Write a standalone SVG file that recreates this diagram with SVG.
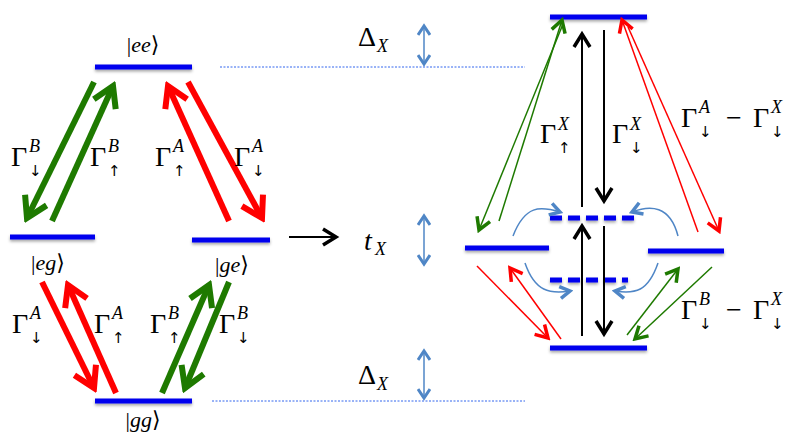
<svg xmlns="http://www.w3.org/2000/svg" width="793" height="437" viewBox="0 0 793 437">
<style>
.lvl{stroke:#0000ee;stroke-width:5}
.dash{stroke:#0000ee;stroke-width:5;stroke-dasharray:12,6}
.guide{stroke:#3366ee;stroke-width:1;stroke-dasharray:2,1.5}
.tg{stroke:#1e7a00;stroke-width:6;fill:none}
.tr{stroke:#ff0000;stroke-width:6;fill:none}
.ng{stroke:#1e7a00;stroke-width:1.5;fill:none}
.nr{stroke:#ff0000;stroke-width:1.5;fill:none}
.bk{stroke:#000;stroke-width:2;fill:none}
.cb{stroke:#4f86c6;stroke-width:1.5;fill:none}
.g{font-family:"Liberation Serif","DejaVu Serif",serif;font-size:28px;fill:#000}
.s{font-family:"Liberation Serif","DejaVu Serif",serif;font-size:18px;font-style:italic;fill:#000}
.a{font-family:"DejaVu Sans",sans-serif;font-size:15px;fill:#000}
.k{font-family:"Liberation Serif","DejaVu Serif",serif;font-size:22px;fill:#000}
.ki{font-style:italic}
</style>
<defs>
<filter id="sh" x="-10%" y="-200%" width="120%" height="500%"><feGaussianBlur in="SourceAlpha" stdDeviation="1.5"/><feOffset dy="2" result="b"/><feFlood flood-color="#000" flood-opacity="0.35"/><feComposite in2="b" operator="in"/><feMerge><feMergeNode/><feMergeNode in="SourceGraphic"/></feMerge></filter>
<marker id="mG" markerUnits="userSpaceOnUse" markerWidth="30" markerHeight="30" viewBox="0 0 30 30" refX="25" refY="15" orient="auto"><path d="M5,3 L25,15 L5,27" stroke="#1e7a00" stroke-width="6" fill="none"/></marker>
<marker id="mR" markerUnits="userSpaceOnUse" markerWidth="30" markerHeight="30" viewBox="0 0 30 30" refX="25" refY="15" orient="auto"><path d="M5,3 L25,15 L5,27" stroke="#ff0000" stroke-width="6" fill="none"/></marker>
<marker id="nG" markerUnits="userSpaceOnUse" markerWidth="18" markerHeight="18" viewBox="0 0 18 18" refX="15" refY="9" orient="auto"><path d="M3,2 L15,9 L3,16" stroke="#1e7a00" stroke-width="3.5" fill="none"/></marker>
<marker id="nR" markerUnits="userSpaceOnUse" markerWidth="18" markerHeight="18" viewBox="0 0 18 18" refX="15" refY="9" orient="auto"><path d="M3,2 L15,9 L3,16" stroke="#ff0000" stroke-width="3.5" fill="none"/></marker>
<marker id="nK" markerUnits="userSpaceOnUse" markerWidth="20" markerHeight="20" viewBox="0 0 20 20" refX="16" refY="10" orient="auto"><path d="M3,2 L16,10 L3,18" stroke="#000" stroke-width="3.5" fill="none"/></marker>
<marker id="nB" markerUnits="userSpaceOnUse" markerWidth="16" markerHeight="16" viewBox="0 0 16 16" refX="13" refY="8" orient="auto"><path d="M3,2 L13,8 L3,14" stroke="#4f86c6" stroke-width="3.5" fill="none"/></marker>
<marker id="bA" markerUnits="userSpaceOnUse" markerWidth="14" markerHeight="14" viewBox="0 0 14 14" refX="11" refY="7" orient="auto-start-reverse"><path d="M2,1 L11,7 L2,13" stroke="#4f86c6" stroke-width="3" fill="none"/></marker>
</defs>

<g id="guides">
<line class="guide" x1="220" y1="67" x2="525" y2="67"/>
<line class="guide" x1="212" y1="401" x2="525" y2="401"/>
</g>

<g id="levels" filter="url(#sh)">
<g id="ee"><line class="lvl" x1="95" y1="67" x2="192" y2="67"/></g>
<g id="eg"><line class="lvl" x1="10" y1="237" x2="95" y2="237"/></g>
<g id="ge"><line class="lvl" x1="192" y1="240" x2="270" y2="240"/></g>
<g id="gg"><line class="lvl" x1="95" y1="401" x2="192" y2="401"/></g>
<g id="r-top"><line class="lvl" x1="550" y1="17" x2="647" y2="17"/></g>
<g id="r-left"><line class="lvl" x1="465" y1="248" x2="549" y2="248"/></g>
<g id="r-right"><line class="lvl" x1="648" y1="251" x2="724" y2="251"/></g>
<g id="r-bottom"><line class="lvl" x1="550" y1="348" x2="647" y2="348"/></g>
<g id="r-dash-up"><line class="dash" x1="550" y1="218" x2="634" y2="218"/></g>
<g id="r-dash-low"><line class="dash" x1="550" y1="280" x2="628" y2="280"/></g>
</g>

<g id="labels">
<text class="k" x="143" y="52" text-anchor="middle">|<tspan class="ki">ee</tspan>⟩</text>
<text class="k" x="48" y="270" text-anchor="middle">|<tspan class="ki">eg</tspan>⟩</text>
<text class="k" x="232" y="272" text-anchor="middle">|<tspan class="ki">ge</tspan>⟩</text>
<text class="k" x="143" y="427" text-anchor="middle">|<tspan class="ki">gg</tspan>⟩</text>
</g>

<g id="connectors">
<line class="tg" x1="94" y1="82" x2="27" y2="218" marker-end="url(#mG)"/>
<line class="tg" x1="52" y1="221" x2="113" y2="86" marker-end="url(#mG)"/>
<line class="tr" x1="229" y1="221" x2="168" y2="86" marker-end="url(#mR)"/>
<line class="tr" x1="188" y1="82" x2="262" y2="218" marker-end="url(#mR)"/>
<line class="tr" x1="42" y1="282" x2="94" y2="388" marker-end="url(#mR)"/>
<line class="tr" x1="116" y1="393" x2="68" y2="285" marker-end="url(#mR)"/>
<line class="tg" x1="162" y1="393" x2="209" y2="285" marker-end="url(#mG)"/>
<line class="tg" x1="229" y1="282" x2="185" y2="388" marker-end="url(#mG)"/>
<line class="bk" x1="289" y1="237" x2="336" y2="237" marker-end="url(#nK)"/>

<line class="ng" x1="563" y1="24" x2="479" y2="230" marker-end="url(#nG)"/>
<line class="ng" x1="499" y1="221" x2="562" y2="20" marker-end="url(#nG)"/>
<line class="nr" x1="698" y1="232" x2="622" y2="20" marker-end="url(#nR)"/>
<line class="nr" x1="628" y1="27" x2="719" y2="231" marker-end="url(#nR)"/>
<line class="bk" x1="582" y1="207" x2="582" y2="34" marker-end="url(#nK)"/>
<line class="bk" x1="604" y1="30" x2="604" y2="201" marker-end="url(#nK)"/>
<line class="bk" x1="582" y1="336" x2="582" y2="226" marker-end="url(#nK)"/>
<line class="bk" x1="604" y1="226" x2="604" y2="334" marker-end="url(#nK)"/>
<line class="nr" x1="477" y1="266" x2="548" y2="338" marker-end="url(#nR)"/>
<line class="nr" x1="561" y1="339" x2="510" y2="268" marker-end="url(#nR)"/>
<line class="ng" x1="627" y1="335" x2="678" y2="269" marker-end="url(#nG)"/>
<line class="ng" x1="712" y1="267" x2="635" y2="339" marker-end="url(#nG)"/>
<path class="cb" d="M513,236 C525,205 540,206 560,212" marker-end="url(#nB)"/>
<path class="cb" d="M678,236 C670,205 650,205 632,212" marker-end="url(#nB)"/>
<path class="cb" d="M525,263 C535,292 550,294 570,291" marker-end="url(#nB)"/>
<path class="cb" d="M658,263 C648,292 635,294 615,291" marker-end="url(#nB)"/>

<line class="cb" stroke-width="2.5" x1="424" y1="26" x2="424" y2="64" marker-start="url(#bA)" marker-end="url(#bA)"/>
<line class="cb" stroke-width="2.5" x1="424" y1="216" x2="424" y2="264" marker-start="url(#bA)" marker-end="url(#bA)"/>
<line class="cb" stroke-width="2.5" x1="424" y1="351" x2="424" y2="398" marker-start="url(#bA)" marker-end="url(#bA)"/>
</g>

<g id="rate-labels">
<text class="g" x="11" y="166">Γ</text><text class="s" x="29" y="152">B</text><text class="a" x="29" y="176">↓</text>
<text class="g" x="90" y="166">Γ</text><text class="s" x="108" y="152">B</text><text class="a" x="108" y="176">↑</text>
<text class="g" x="155" y="166">Γ</text><text class="s" x="173" y="152">A</text><text class="a" x="173" y="176">↑</text>
<text class="g" x="234" y="166">Γ</text><text class="s" x="252" y="152">A</text><text class="a" x="252" y="176">↓</text>
<text class="g" x="12" y="333">Γ</text><text class="s" x="30" y="319">A</text><text class="a" x="30" y="343">↓</text>
<text class="g" x="94" y="333">Γ</text><text class="s" x="112" y="319">A</text><text class="a" x="112" y="343">↑</text>
<text class="g" x="150" y="333">Γ</text><text class="s" x="168" y="319">B</text><text class="a" x="168" y="343">↑</text>
<text class="g" x="219" y="333">Γ</text><text class="s" x="237" y="319">B</text><text class="a" x="237" y="343">↓</text>

<text class="g" x="358" y="46">Δ</text><text class="s" x="377" y="52" font-size="16">X</text>
<text class="g" x="364" y="250"><tspan font-style="italic">t</tspan></text><text class="s" x="375" y="255" font-size="16">X</text>
<text class="g" x="358" y="384">Δ</text><text class="s" x="377" y="390" font-size="16">X</text>

<text class="g" x="540" y="143">Γ</text><text class="s" x="558" y="130">X</text><text class="a" x="558" y="153">↑</text>
<text class="g" x="612" y="143">Γ</text><text class="s" x="630" y="130">X</text><text class="a" x="630" y="153">↓</text>
<text class="g" x="681" y="127">Γ</text><text class="s" x="699" y="113">A</text><text class="a" x="699" y="137">↓</text>
<text class="g" x="726" y="127" font-size="24">−</text>
<text class="g" x="753" y="127">Γ</text><text class="s" x="771" y="113">X</text><text class="a" x="771" y="137">↓</text>
<text class="g" x="681" y="319">Γ</text><text class="s" x="699" y="305">B</text><text class="a" x="699" y="329">↓</text>
<text class="g" x="726" y="319" font-size="24">−</text>
<text class="g" x="753" y="319">Γ</text><text class="s" x="771" y="305">X</text><text class="a" x="771" y="329">↓</text>
</g>
</svg>
